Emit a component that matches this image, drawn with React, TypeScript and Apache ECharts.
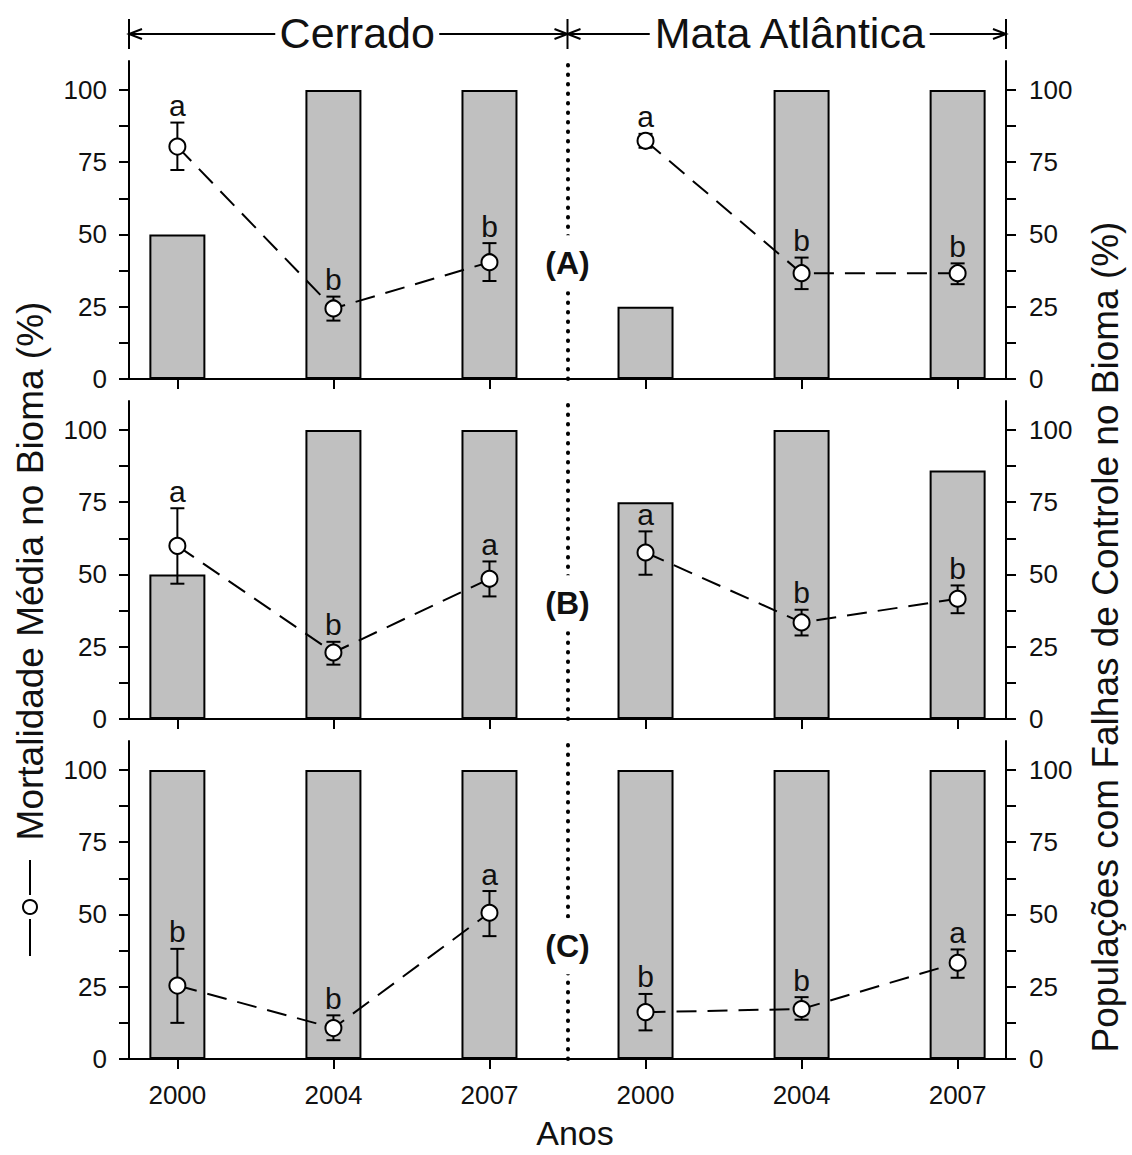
import React, { useEffect, useRef } from "react";
import * as echarts from "echarts";

// ---------- data ----------
const years = ["2000", "2004", "2007", "2000", "2004", "2007"];
const xPos = [0, 1, 2, 3, 4, 5];
const panelLabels = ["(A)", "(B)", "(C)"];
const panelLabelY = [40, 40, 39];
const biomes = ["Cerrado", "Mata Atlântica"];

// Populações com Falhas de Controle no Bioma (%) – bars
const barsA = [50, 100, 100, 25, 100, 100];
const barsB = [50, 100, 100, 75, 100, 86];
const barsC = [100, 100, 100, 100, 100, 100];

// Mortalidade Média no Bioma (%) – mean, lower and upper error limits, letters
const meanA = [80.4, 24.4, 40.4, 82.4, 36.6, 36.6];
const lowA = [72.3, 20.2, 33.9, 80.0, 31.1, 32.8];
const highA = [88.7, 28.5, 47.0, 84.8, 42.0, 40.0];
const lettersA = ["a", "b", "b", "a", "b", "b"];

const meanB = [59.9, 23.0, 48.5, 57.6, 33.4, 41.6];
const lowB = [46.8, 18.8, 42.4, 49.9, 28.9, 36.6];
const highB = [72.9, 26.7, 54.5, 64.9, 37.8, 46.2];
const lettersB = ["a", "b", "a", "a", "b", "b"];

const meanC = [25.4, 10.7, 50.6, 16.2, 17.3, 33.3];
const lowC = [12.5, 6.5, 42.5, 9.9, 13.6, 28.1];
const highC = [38.1, 15.1, 58.1, 22.5, 21.4, 37.9];
const lettersC = ["b", "b", "a", "b", "b", "a"];

const yTicks = [0, 12.5, 25, 37.5, 50, 62.5, 75, 87.5, 100];
const yLabels = [0, 25, 50, 75, 100];

const bars = [barsA, barsB, barsC];
const means = [meanA, meanB, meanC];
const lows = [lowA, lowB, lowC];
const highs = [highA, highB, highC];
const letters = [lettersA, lettersB, lettersC];

// ---------- layout ----------
const W = 1132;
const H = 1155;
const FONT = '"Liberation Sans", Arial, Helvetica, sans-serif';
const GRID_LEFT = 129;
const GRID_RIGHT = 126;
const GRID_TOPS = [61, 401, 741];
const GRID_H = 318;
const X_MIN = -0.31;
const X_MAX = 5.31;

export default function App() {
  const ref = useRef<HTMLDivElement>(null);

  useEffect(() => {
    document.body.style.margin = "0";
    if (!ref.current) return;
    const chart = echarts.init(ref.current, null, { renderer: "svg" });

    const grids = GRID_TOPS.map((top) => ({
      left: GRID_LEFT,
      right: GRID_RIGHT,
      top,
      height: GRID_H,
      containLabel: false,
    }));

    const xAxes = GRID_TOPS.map((_, p) => ({
      type: "value",
      gridIndex: p,
      min: X_MIN,
      max: X_MAX,
      axisLine: { show: true, onZero: false, lineStyle: { color: "#000", width: 2 } },
      axisTick: {
        show: true,
        inside: false,
        length: 10,
        customValues: xPos,
        lineStyle: { color: "#000", width: 2 },
      },
      axisLabel: {
        show: p === 2,
        customValues: xPos,
        formatter: (v: number) => years[Math.round(v)] ?? "",
        fontSize: 26,
        fontFamily: FONT,
        color: "#111",
        margin: 23,
      },
      splitLine: { show: false },
    }));

    const yAxes: any[] = [];
    GRID_TOPS.forEach((_, p) => {
      ["left", "right"].forEach((pos) => {
        yAxes.push({
          type: "value",
          gridIndex: p,
          position: pos,
          min: 0,
          max: 110,
          axisLine: { show: true, onZero: false, lineStyle: { color: "#000", width: 2 } },
          axisTick: {
            show: true,
            inside: false,
            length: 10,
            customValues: yTicks,
            lineStyle: { color: "#000", width: 2 },
          },
          axisLabel: {
            show: true,
            customValues: yLabels,
            fontSize: 26,
            fontFamily: FONT,
            color: "#111",
            margin: pos === "left" ? 22 : 23,
          },
          splitLine: { show: false },
        });
      });
    });

    const series: any[] = [];
    GRID_TOPS.forEach((_, p) => {
      // bars (right axis)
      series.push({
        type: "bar",
        xAxisIndex: p,
        yAxisIndex: 2 * p + 1,
        data: xPos.map((x, i) => [x, bars[p][i]]),
        barWidth: 56,
        itemStyle: { color: "#c0c0c0", borderColor: "#000", borderWidth: 2 },
        z: 2,
        silent: true,
      });
      // dotted separator
      series.push({
        type: "line",
        xAxisIndex: p,
        yAxisIndex: 2 * p,
        data: [],
        z: 3,
        markLine: {
          silent: true,
          symbol: ["none", "none"],
          label: { show: false },
          lineStyle: { color: "#000", width: 4, type: [0.5, 9], cap: "round" },
          data: [{ xAxis: 2.5 }],
        },
      });
      // error bars + letters (left axis)
      series.push({
        type: "custom",
        xAxisIndex: p,
        yAxisIndex: 2 * p,
        z: 4,
        silent: true,
        data: xPos.map((x, i) => [x, lows[p][i], highs[p][i]]),
        encode: { x: 0, y: [1, 2] },
        renderItem: (params: any, api: any) => {
          const x = api.value(0);
          const lo = api.value(1);
          const hi = api.value(2);
          const a = api.coord([x, lo]);
          const b = api.coord([x, hi]);
          const cw = 7;
          const st = { stroke: "#000", lineWidth: 2 };
          const children: any[] = [
            { type: "line", shape: { x1: a[0], y1: a[1], x2: b[0], y2: b[1] }, style: st },
            { type: "line", shape: { x1: a[0] - cw, y1: a[1], x2: a[0] + cw, y2: a[1] }, style: st },
            { type: "line", shape: { x1: b[0] - cw, y1: b[1], x2: b[0] + cw, y2: b[1] }, style: st },
            {
              type: "text",
              style: {
                text: letters[p][params.dataIndex],
                x: b[0],
                y: b[1] - 2,
                align: "center",
                verticalAlign: "bottom",
                fontSize: 30,
                fontFamily: FONT,
                fill: "#111",
              },
            },
          ];
          return { type: "group", children };
        },
      });
      // mortality lines, one per biome
      [[0, 1, 2], [3, 4, 5]].forEach((idx) => {
        series.push({
          type: "line",
          xAxisIndex: p,
          yAxisIndex: 2 * p,
          data: idx.map((i) => [xPos[i], means[p][i]]),
          symbol: "circle",
          symbolSize: 16,
          showSymbol: true,
          showAllSymbol: true,
          itemStyle: { color: "#fff", borderColor: "#000", borderWidth: 2 },
          lineStyle: { color: "#000", width: 2, type: [20, 11] },
          z: 5,
          silent: true,
        });
      });
      // panel label
      series.push({
        type: "custom",
        xAxisIndex: p,
        yAxisIndex: 2 * p,
        z: 6,
        silent: true,
        data: [[2.5, panelLabelY[p]]],
        renderItem: (_params: any, api: any) => {
          const c = api.coord([api.value(0), api.value(1)]);
          return {
            type: "text",
            style: {
              text: panelLabels[p],
              x: c[0],
              y: c[1],
              align: "center",
              verticalAlign: "middle",
              fontSize: 32,
              fontWeight: "bold",
              fontFamily: FONT,
              fill: "#111",
              backgroundColor: "#fff",
              padding: [16, 0, 8, 0],
            },
          };
        },
      });
    });

    chart.setOption({
      animation: false,
      backgroundColor: "#fff",
      grid: grids,
      xAxis: xAxes,
      yAxis: yAxes,
      series,
    });

    // header & titles positioned from the axis scale
    const px = (v: number) => chart.convertToPixel({ xAxisIndex: 0 }, v) as number;
    const xl = px(X_MIN);
    const xm = px(2.5);
    const xr = px(X_MAX);
    const hy = 34;
    const ln = (x1: number, y1: number, x2: number, y2: number, w = 2) => ({
      type: "line",
      shape: { x1, y1, x2, y2 },
      style: { stroke: "#000", lineWidth: w },
      silent: true,
    });
    const arrow = (x: number, dir: number) => ({
      type: "polyline",
      shape: { points: [[x - dir * 13, hy - 5], [x, hy], [x - dir * 13, hy + 5]] },
      style: { stroke: "#000", lineWidth: 2, fill: "none" },
      silent: true,
    });
    const headerText = (text: string, x: number) => ({
      type: "text",
      x,
      y: hy - 1,
      silent: true,
      style: {
        text,
        fontSize: 43,
        fontFamily: FONT,
        fill: "#111",
        align: "center",
        verticalAlign: "middle",
      },
    });
    const cerradoX = (xl + xm) / 2 + 9;
    const mataX = (xm + xr) / 2 + 3;

    chart.setOption({
      graphic: [
        ln(xl, hy - 15, xl, hy + 15),
        ln(xm, hy - 15, xm, hy + 15),
        ln(xr, hy - 15, xr, hy + 15),
        ln(xl, hy, cerradoX - 82, hy),
        ln(cerradoX + 82, hy, xm, hy),
        ln(xm, hy, mataX - 140, hy),
        ln(mataX + 140, hy, xr, hy),
        arrow(xl, -1),
        arrow(xm, 1),
        arrow(xm, -1),
        arrow(xr, 1),
        headerText(biomes[0], cerradoX),
        headerText(biomes[1], mataX),
        {
          type: "text",
          x: 30,
          y: 571,
          rotation: Math.PI / 2,
          silent: true,
          style: {
            text: "Mortalidade Média no Bioma (%)",
            fontSize: 37,
            fontFamily: FONT,
            fill: "#111",
            align: "center",
            verticalAlign: "middle",
          },
        },
        ln(30, 860, 30, 895, 2),
        {
          type: "circle",
          shape: { cx: 30, cy: 907, r: 7 },
          style: { fill: "#fff", stroke: "#000", lineWidth: 2 },
          silent: true,
        },
        ln(30, 919, 30, 956, 2),
        {
          type: "text",
          x: 1105,
          y: 637,
          rotation: Math.PI / 2,
          silent: true,
          style: {
            text: "Populações com Falhas de Controle no Bioma (%)",
            fontSize: 37,
            fontFamily: FONT,
            fill: "#111",
            align: "center",
            verticalAlign: "middle",
          },
        },
        {
          type: "text",
          x: 575,
          y: 1133,
          silent: true,
          style: {
            text: "Anos",
            fontSize: 34,
            fontFamily: FONT,
            fill: "#111",
            align: "center",
            verticalAlign: "middle",
          },
        },
      ],
    });

    return () => chart.dispose();
  }, []);

  return <div ref={ref} style={{ width: W, height: H }} />;
}
